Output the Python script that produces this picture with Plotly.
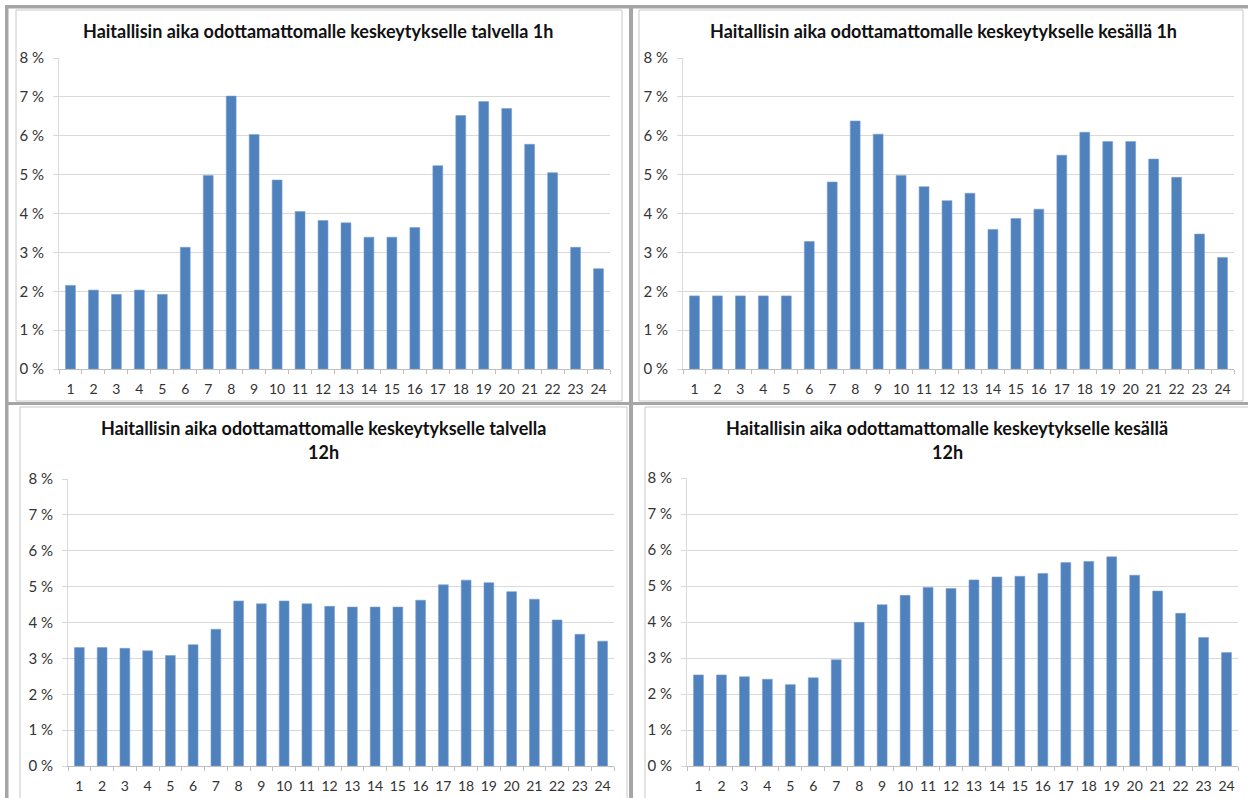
import plotly.graph_objects as go

W, H = 1248, 798

hours = [str(h) for h in range(1, 25)]

talvi_1h = [2.15, 2.03, 1.92, 2.03, 1.92, 3.13, 4.98, 7.02, 6.03, 4.86, 4.05, 3.82,
            3.76, 3.39, 3.39, 3.64, 5.23, 6.52, 6.88, 6.70, 5.78, 5.05, 3.13, 2.58]
kesa_1h = [1.88, 1.88, 1.88, 1.88, 1.88, 3.28, 4.81, 6.38, 6.04, 4.98, 4.69, 4.33,
           4.52, 3.59, 3.87, 4.11, 5.50, 6.09, 5.85, 5.85, 5.40, 4.93, 3.47, 2.87]
talvi_12h = [3.30, 3.30, 3.28, 3.21, 3.08, 3.38, 3.81, 4.60, 4.52, 4.60, 4.52, 4.45,
             4.43, 4.43, 4.43, 4.62, 5.05, 5.18, 5.11, 4.86, 4.65, 4.07, 3.67, 3.48]
kesa_12h = [2.53, 2.53, 2.48, 2.41, 2.26, 2.45, 2.95, 3.99, 4.48, 4.74, 4.96, 4.93,
            5.17, 5.25, 5.27, 5.35, 5.65, 5.68, 5.81, 5.30, 4.86, 4.24, 3.57, 3.15]

titles = [
    ["Haitallisin aika odottamattomalle keskeytykselle talvella 1h"],
    ["Haitallisin aika odottamattomalle keskeytykselle kesällä 1h"],
    ["Haitallisin aika odottamattomalle keskeytykselle talvella", "12h"],
    ["Haitallisin aika odottamattomalle keskeytykselle kesällä", "12h"],
]
series = [talvi_1h, kesa_1h, talvi_12h, kesa_12h]

# layout (pixels)
plot_boxes = [(59, 610, 58, 369), (683, 1234, 58, 369), (68, 614, 479, 766), (687, 1238, 478, 766)]
title_pos = [(318, [31]), (943, [31]), (323, [428, 452]), (947, [428, 452])]
frames = [(16, 622, 10, 401), (639, 1243, 10, 401), (20, 627, 407, 800), (645, 1250, 407, 800)]


def px(x):
    return x / W


def py(y):
    return 1 - y / H


BAR = "#4f81bd"
FONT = "Lato"

fig = go.Figure()
shapes = []
annotations = []

# grey frame bands
band = "#a6a6a6"
for (x0, x1, y0, y1) in [(5, 1248, 5, 8.5), (5, 8.5, 5, 798), (629, 633, 5, 798), (8, 1248, 402, 405)]:
    shapes.append(dict(type="rect", xref="paper", yref="paper", x0=px(x0), x1=px(x1),
                       y0=py(y1), y1=py(y0), fillcolor=band, line=dict(width=0), layer="below"))
for (x0, x1, y0, y1) in frames:
    shapes.append(dict(type="rect", xref="paper", yref="paper", x0=px(x0), x1=px(x1),
                       y0=py(y1), y1=py(y0), fillcolor="rgba(0,0,0,0)",
                       line=dict(color="#c8c8c8", width=1), layer="below"))

for i in range(4):
    n = "" if i == 0 else str(i + 1)
    xa, ya = "x" + n, "y" + n
    fig.add_trace(go.Bar(x=hours, y=series[i], xaxis=xa, yaxis=ya, marker_color=BAR,
                         marker_line=dict(color="#7a9fcf", width=0.6), showlegend=False))
    x0, x1, y0, y1 = plot_boxes[i]
    fig.layout["xaxis" + n] = dict(
        domain=[px(x0), px(x1)], anchor=ya, type="category", tickson="boundaries",
        ticks="outside", ticklen=4, tickcolor="#bfbfbf", showline=True, linecolor="#bfbfbf",
        linewidth=1, showgrid=False, tickfont=dict(family=FONT, size=14, color="#333333"),
        tickangle=0, automargin=False, ticklabelstandoff=7, fixedrange=True)
    fig.layout["yaxis" + n] = dict(
        domain=[py(y1), py(y0)], anchor=xa, range=[0, 8], dtick=1, ticksuffix=" %",
        ticks="outside", ticklen=5, tickcolor="#d9d9d9", showline=True, linecolor="#d9d9d9",
        gridcolor="#d9d9d9", gridwidth=1, zeroline=False, automargin=False,
        tickfont=dict(family=FONT, size=15, color="#333333"), ticklabelstandoff=6,
        fixedrange=True)
    cx, ys = title_pos[i]
    for line, ty in zip(titles[i], ys):
        annotations.append(dict(text="<b>" + line + "</b>", x=px(cx), y=py(ty), xref="paper",
                                yref="paper", xanchor="center", yanchor="middle", showarrow=False,
                                font=dict(family=FONT, size=18, color="#111111")))

fig.update_layout(width=W, height=H, margin=dict(l=0, r=0, t=0, b=0, pad=0), autosize=False,
                  paper_bgcolor="white", plot_bgcolor="white", bargap=0.57,
                  shapes=shapes, annotations=annotations)

fig.write_html("out.html", config={"displayModeBar": False},
               post_script="document.body.style.margin='0';document.body.style.overflow='hidden';")
